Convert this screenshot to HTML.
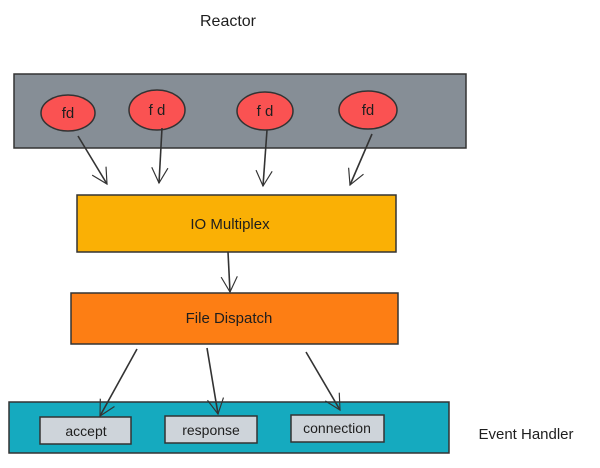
<!DOCTYPE html>
<html><head><meta charset="utf-8"><style>
html,body{margin:0;padding:0;background:#fff}
svg text{font-family:"Comic Sans MS","Liberation Sans",sans-serif;fill:#1e1e1e}
</style></head><body>
<svg width="600" height="463" viewBox="0 0 600 463" xmlns="http://www.w3.org/2000/svg">
<defs><marker id="a" viewBox="0 0 20 20" refX="18" refY="10" markerWidth="18" markerHeight="18" orient="auto" markerUnits="userSpaceOnUse"><path d="M1 1 L18 10 L1 19" fill="none" stroke="#333" stroke-width="1.3"/></marker></defs>
<text x="228" y="26" font-size="16" text-anchor="middle">Reactor</text>
<rect x="14" y="74" width="452" height="74" fill="#868e96" stroke="#333" stroke-width="1.5"/>
<g fill="#fa5252" stroke="#333" stroke-width="1.5">
<ellipse cx="68" cy="113" rx="27" ry="18"/>
<ellipse cx="157" cy="110" rx="28" ry="20"/>
<ellipse cx="265" cy="111" rx="28" ry="19"/>
<ellipse cx="368" cy="110" rx="29" ry="19"/>
</g>
<g font-size="15" text-anchor="middle">
<text x="68" y="118">fd</text><text x="157" y="115">f d</text><text x="265" y="116">f d</text><text x="368" y="115">fd</text>
</g>
<g stroke="#333" stroke-width="1.6" fill="none" marker-end="url(#a)">
<line x1="78" y1="136" x2="107" y2="184"/>
<line x1="162" y1="128" x2="159" y2="183"/>
<line x1="267" y1="130" x2="263" y2="186"/>
<line x1="372" y1="134" x2="350" y2="185"/>
</g>
<rect x="77" y="195" width="319" height="57" fill="#fab005" stroke="#333" stroke-width="1.5"/>
<text x="230" y="229" font-size="15" text-anchor="middle">IO Multiplex</text>
<line x1="228" y1="252" x2="230" y2="292" stroke="#333" stroke-width="1.6" marker-end="url(#a)"/>
<rect x="71" y="293" width="327" height="51" fill="#fd7e14" stroke="#333" stroke-width="1.5"/>
<text x="229" y="323" font-size="15" text-anchor="middle">File Dispatch</text>
<rect x="9" y="402" width="440" height="51" fill="#15aabf" stroke="#333" stroke-width="1.5"/>
<g stroke="#333" stroke-width="1.6" fill="none" marker-end="url(#a)">
<line x1="137" y1="349" x2="100" y2="416"/>
<line x1="207" y1="348" x2="218" y2="414"/>
<line x1="306" y1="352" x2="340" y2="410"/>
</g>
<g fill="#ced4da" stroke="#333" stroke-width="1.5">
<rect x="40" y="417" width="91" height="27"/>
<rect x="165" y="416" width="92" height="27"/>
<rect x="291" y="415" width="93" height="27"/>
</g>
<g font-size="14" text-anchor="middle">
<text x="86" y="436">accept</text><text x="211" y="435">response</text><text x="337" y="433">connection</text>
</g>
<text x="526" y="439" font-size="15" text-anchor="middle">Event Handler</text>
</svg>
</body></html>
